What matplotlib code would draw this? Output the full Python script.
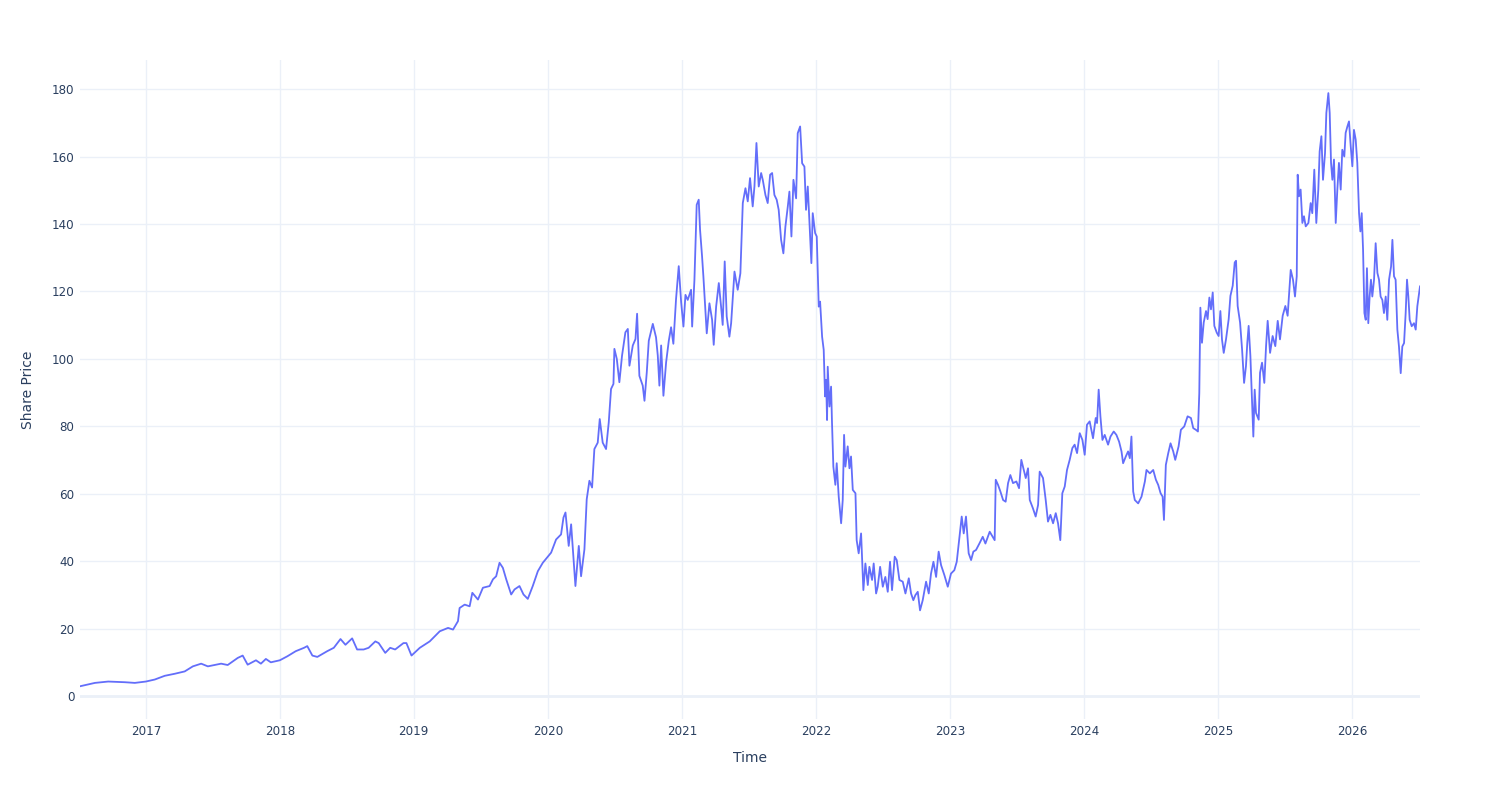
import matplotlib
matplotlib.use("Agg")
import matplotlib.pyplot as plt
import matplotlib.dates as mdates
from datetime import datetime

# Decimal-year time stamps and share prices
years = [
    2016.510, 2016.621, 2016.720, 2016.844, 2016.918, 2017.000, 2017.067, 2017.141, 2017.215, 2017.290,
    2017.351, 2017.413, 2017.463, 2017.562, 2017.611, 2017.686, 2017.723, 2017.760, 2017.822, 2017.859,
    2017.896, 2017.933, 2018.000, 2018.057, 2018.119, 2018.181, 2018.205, 2018.243, 2018.280, 2018.354,
    2018.403, 2018.453, 2018.490, 2018.540, 2018.577, 2018.626, 2018.663, 2018.713, 2018.738, 2018.787,
    2018.824, 2018.861, 2018.923,
    2018.945, 2018.983, 2019.045, 2019.119, 2019.194, 2019.256, 2019.293, 2019.330, 2019.342, 2019.380,
    2019.417, 2019.437, 2019.479, 2019.516, 2019.566, 2019.591, 2019.615, 2019.640, 2019.665, 2019.690,
    2019.727, 2019.752, 2019.789, 2019.819, 2019.851, 2019.888, 2019.926, 2019.963,
    2020.025, 2020.062, 2020.099, 2020.117, 2020.132, 2020.156, 2020.174, 2020.206, 2020.231, 2020.248,
    2020.273, 2020.290, 2020.310, 2020.330, 2020.347, 2020.372, 2020.387, 2020.409, 2020.434, 2020.454,
    2020.471, 2020.489, 2020.496, 2020.514, 2020.533, 2020.553, 2020.578, 2020.596, 2020.608, 2020.633,
    2020.653, 2020.665, 2020.682, 2020.707, 2020.720, 2020.737, 2020.752, 2020.782, 2020.806, 2020.819,
    2020.831, 2020.844, 2020.861, 2020.881, 2020.901, 2020.918, 2020.935, 2020.955, 2020.975, 2020.993,
    2021.010, 2021.025, 2021.042, 2021.067, 2021.075, 2021.092, 2021.109, 2021.124, 2021.134, 2021.149,
    2021.159, 2021.174, 2021.184, 2021.204, 2021.224, 2021.236, 2021.254, 2021.274, 2021.291, 2021.303,
    2021.318, 2021.333, 2021.353, 2021.366, 2021.391, 2021.415, 2021.435, 2021.453, 2021.473, 2021.490,
    2021.507, 2021.527, 2021.540, 2021.555, 2021.572, 2021.590, 2021.602, 2021.622, 2021.639, 2021.657,
    2021.672, 2021.689, 2021.706, 2021.721, 2021.739, 2021.756, 2021.771, 2021.789, 2021.801, 2021.816,
    2021.831, 2021.851, 2021.863, 2021.881, 2021.896, 2021.913, 2021.925, 2021.938, 2021.950, 2021.965,
    2021.975, 2021.993, 2022.005, 2022.020, 2022.030, 2022.045, 2022.057, 2022.067, 2022.075, 2022.082,
    2022.087, 2022.100, 2022.112,
    2022.119, 2022.129, 2022.144, 2022.154, 2022.169, 2022.187, 2022.199, 2022.209, 2022.219, 2022.236,
    2022.249, 2022.261, 2022.274, 2022.294, 2022.303, 2022.318, 2022.336, 2022.353, 2022.368, 2022.386,
    2022.398, 2022.418, 2022.430, 2022.448, 2022.460, 2022.478, 2022.498, 2022.517, 2022.535, 2022.552,
    2022.567, 2022.587, 2022.602, 2022.622, 2022.647, 2022.667, 2022.692, 2022.709, 2022.726, 2022.741,
    2022.759, 2022.776, 2022.796, 2022.821, 2022.841, 2022.858, 2022.876, 2022.896, 2022.915, 2022.933,
    2022.958, 2022.983, 2023.007, 2023.032, 2023.050, 2023.070, 2023.087, 2023.102, 2023.119, 2023.139,
    2023.157, 2023.174, 2023.194, 2023.219, 2023.244, 2023.264,
    2023.296, 2023.333, 2023.341, 2023.358, 2023.376, 2023.396, 2023.415, 2023.433, 2023.450, 2023.470,
    2023.495, 2023.515, 2023.532, 2023.550, 2023.565, 2023.582, 2023.595, 2023.619, 2023.639, 2023.657,
    2023.669, 2023.694, 2023.714, 2023.731, 2023.749, 2023.769, 2023.789, 2023.806, 2023.823, 2023.838,
    2023.856, 2023.873, 2023.893, 2023.913, 2023.930, 2023.948, 2023.968, 2023.988, 2024.005, 2024.022,
    2024.042, 2024.067, 2024.087, 2024.097, 2024.109, 2024.122, 2024.137, 2024.154, 2024.179, 2024.197,
    2024.221, 2024.241, 2024.261, 2024.279, 2024.291, 2024.311, 2024.328, 2024.341, 2024.353, 2024.366,
    2024.378, 2024.403, 2024.428, 2024.453, 2024.465, 2024.490, 2024.515, 2024.535, 2024.552, 2024.570,
    2024.585, 2024.595, 2024.609, 2024.627, 2024.644, 2024.664,
    2024.679, 2024.704, 2024.721, 2024.746, 2024.771, 2024.796, 2024.813, 2024.833, 2024.848, 2024.858,
    2024.866, 2024.878, 2024.891, 2024.908, 2024.920, 2024.933, 2024.945, 2024.958, 2024.970, 2024.988,
    2025.002, 2025.015, 2025.027, 2025.040, 2025.057, 2025.077, 2025.090, 2025.107, 2025.122, 2025.132,
    2025.144, 2025.162, 2025.177, 2025.192, 2025.206, 2025.216, 2025.226, 2025.239, 2025.251, 2025.261,
    2025.271, 2025.281, 2025.301, 2025.311, 2025.326, 2025.343, 2025.356, 2025.368, 2025.386, 2025.405,
    2025.425, 2025.443, 2025.460, 2025.480, 2025.500, 2025.517,
    2025.540, 2025.557, 2025.572, 2025.585, 2025.592, 2025.602, 2025.614, 2025.627, 2025.639, 2025.652,
    2025.672, 2025.689, 2025.701, 2025.716, 2025.731, 2025.746, 2025.756, 2025.769, 2025.781, 2025.796,
    2025.806, 2025.821, 2025.831, 2025.841, 2025.851, 2025.863, 2025.876, 2025.888, 2025.900, 2025.913,
    2025.925, 2025.940, 2025.950, 2025.963, 2025.975, 2025.988, 2026.000, 2026.012, 2026.025, 2026.037,
    2026.050, 2026.060, 2026.070, 2026.080, 2026.090, 2026.100, 2026.109, 2026.119, 2026.129, 2026.139,
    2026.149, 2026.162, 2026.174, 2026.187, 2026.199, 2026.211, 2026.224, 2026.236, 2026.249, 2026.261,
    2026.274, 2026.289, 2026.299, 2026.311, 2026.323, 2026.336, 2026.348, 2026.361, 2026.373, 2026.386,
    2026.398, 2026.408, 2026.418, 2026.428, 2026.443, 2026.460, 2026.473, 2026.485, 2026.505,
]

prices = [
    3.0, 4.0, 4.4, 4.2, 4.0, 4.4, 5.0, 6.1, 6.7, 7.4,
    8.9, 9.7, 8.9, 9.7, 9.3, 11.4, 12.1, 9.4, 10.7, 9.7,
    11.1, 10.1, 10.7, 11.9, 13.4, 14.4, 14.9, 12.1, 11.7, 13.4,
    14.4, 17.0, 15.3, 17.2, 13.9, 13.9, 14.4, 16.3, 15.8, 12.9,
    14.4, 13.9, 15.8,
    15.8, 12.1, 14.4, 16.3, 19.3, 20.3, 19.8, 22.3, 26.2, 27.2,
    26.7, 30.7, 28.7, 32.2, 32.7, 34.7, 35.6, 39.6, 38.1, 34.7,
    30.2, 31.7, 32.7, 30.2, 28.9, 32.7, 37.1, 39.6,
    42.6, 46.5, 48.0, 53.0, 54.5, 44.6, 51.0, 32.7, 44.6, 35.6,
    43.6, 58.4, 63.9, 61.9, 73.3, 75.2, 82.2, 75.2, 73.3, 81.2,
    91.1, 92.6, 103.0, 100.0, 93.1, 101.0, 107.9, 108.9, 98.0, 104.0,
    105.9, 113.4, 95.0, 92.1, 87.6, 96.0, 105.4, 110.4, 106.4, 101.0,
    92.1, 104.0, 89.1, 99.0, 105.4, 109.4, 104.5, 117.8, 127.5, 116.8,
    109.6, 119.0, 117.5, 120.5, 109.6, 123.4, 145.7, 147.2, 138.3, 130.4,
    124.4, 114.5, 107.6, 116.5, 111.6, 104.2, 115.5, 122.5, 115.5, 110.1,
    128.9, 112.6, 106.6, 110.6, 125.9, 120.5, 125.4, 146.2, 150.6, 146.7,
    153.6, 145.2, 151.1, 164.0, 151.1, 155.1, 153.1, 148.6, 146.2, 154.6,
    155.1, 148.6, 147.2, 144.2, 135.3, 131.3, 139.2, 145.2, 149.6, 136.3,
    153.1, 147.6, 166.9, 168.9, 158.0, 157.0, 144.2, 151.1, 141.2, 128.4,
    143.2, 137.3, 136.3, 115.5, 117.0, 106.6, 102.7, 88.9, 93.8, 81.9,
    97.7, 85.9, 91.8,
    81.0, 68.1, 62.7, 69.1, 59.2, 51.3, 58.2, 77.5, 68.1, 74.1,
    67.6, 71.1, 61.2, 60.2, 46.3, 42.4, 48.3, 31.5, 39.4, 33.0,
    38.4, 34.5, 39.4, 30.5, 32.5, 38.4, 32.5, 35.4, 31.0, 39.9,
    31.5, 41.4, 40.4, 34.5, 34.0, 30.5, 35.0, 30.5, 28.5, 30.0,
    31.0, 25.5, 28.5, 34.0, 30.5, 36.4, 39.9, 35.4, 42.9, 38.9,
    35.9, 32.5, 36.4, 37.4, 39.9, 47.3, 53.3, 48.3, 53.3, 42.4,
    40.4, 42.9, 43.4, 45.3, 47.3, 45.3,
    48.8, 46.3, 64.2, 62.7, 60.7, 58.2, 57.7, 63.2, 65.6, 63.2,
    63.7, 61.7, 70.1, 67.1, 64.7, 67.6, 58.2, 55.7, 53.3, 56.7,
    66.6, 64.7, 58.2, 51.8, 53.8, 51.3, 54.3, 51.3, 46.3, 60.2,
    62.2, 67.1, 70.1, 73.6, 74.6, 72.1, 78.0, 76.0, 71.6, 80.5,
    81.5, 76.5, 82.5, 81.0, 90.9, 83.0, 76.0, 77.5, 74.6, 77.0,
    78.5, 77.5, 75.5, 72.6, 69.1, 71.1, 72.6, 70.6, 77.0, 60.7,
    58.2, 57.2, 59.2, 63.7, 67.1, 66.1, 67.1, 64.2, 62.7, 60.2,
    59.2, 52.3, 68.6, 72.1, 75.0, 72.6,
    70.1, 74.1, 79.0, 80.0, 83.0, 82.5, 79.5, 79.0, 78.5, 89.9,
    115.2, 104.8, 110.8, 114.2, 111.8, 118.2, 114.7, 119.7, 109.8, 107.8,
    106.8, 114.2, 105.8, 101.8, 105.8, 111.8, 118.7, 121.7, 128.6, 129.1,
    115.7, 110.8, 102.8, 92.9, 97.9, 104.8, 109.8, 100.9, 88.0, 77.0,
    90.9, 84.0, 82.0, 95.9, 98.9, 92.9, 103.8, 111.3, 101.8, 106.8,
    103.8, 111.3, 105.8, 112.8, 115.7, 112.8,
    126.4, 123.5, 118.5, 124.5, 154.6, 148.2, 150.2, 140.3, 142.3, 139.3,
    140.3, 146.2, 143.2, 156.1, 140.3, 150.2, 161.5, 166.0, 153.1, 161.0,
    172.9, 178.8, 172.9, 158.1, 153.1, 159.1, 140.3, 150.2, 158.1, 150.2,
    162.0, 160.0, 167.0, 168.9, 170.4, 163.0, 157.1, 167.9, 165.0, 158.1,
    143.2, 137.8, 143.2, 132.4, 113.6, 111.6, 126.9, 110.6, 118.5, 123.5,
    118.5, 123.5, 134.3, 125.5, 123.5, 118.5, 117.5, 113.6, 118.5, 111.6,
    123.5, 127.4, 135.3, 124.5, 123.5, 108.7, 103.7, 95.8, 103.7, 104.7,
    113.6, 123.5, 118.5, 111.6, 109.7, 110.6, 108.7, 115.6, 121.5,
]

y_ticks = [0, 20, 40, 60, 80, 100, 120, 140, 160, 180]
x_tick_years = list(range(2017, 2027))
x_title = "Time"
y_title = "Share Price"


def to_date(v):
    y = int(v)
    start = datetime(y, 1, 1)
    end = datetime(y + 1, 1, 1)
    return start + (end - start) * (v - y)


dates = [to_date(v) for v in years]

TEXT = "#2a3f5f"
GRID = "#EBF0F8"
LINE = "#636EFA"

plt.rcParams['font.family'] = ['DejaVu Sans']
fig = plt.figure(figsize=(15, 8), dpi=100)
ax = fig.add_axes([80 / 1500, 1 - 719 / 800, 1340 / 1500, (719 - 60) / 800])

ax.plot(dates, prices, color=LINE, linewidth=1.3, solid_joinstyle='round', zorder=3)

ax.set_xlim(dates[0], dates[-1])
ax.set_ylim(-6.7, 188.6)

ax.set_yticks(y_ticks)
ax.set_yticklabels([str(t) for t in y_ticks])
ax.set_xticks([datetime(y, 1, 1) for y in x_tick_years])
ax.xaxis.set_major_formatter(mdates.DateFormatter('%Y'))

ax.grid(True, color=GRID, linewidth=1.0, zorder=0)
ax.axhline(0, color=GRID, linewidth=2.0, zorder=1)
ax.set_axisbelow(True)
for s in ax.spines.values():
    s.set_visible(False)
ax.tick_params(axis='both', length=0, colors=TEXT, labelsize=8.6)
ax.tick_params(axis='x', pad=4)
ax.tick_params(axis='y', pad=4)

ax.set_xlabel(x_title, fontsize=10, color=TEXT, labelpad=10)
ax.set_ylabel(y_title, fontsize=10, color=TEXT, labelpad=12)

fig.savefig("out.png", dpi=100, facecolor="white")
